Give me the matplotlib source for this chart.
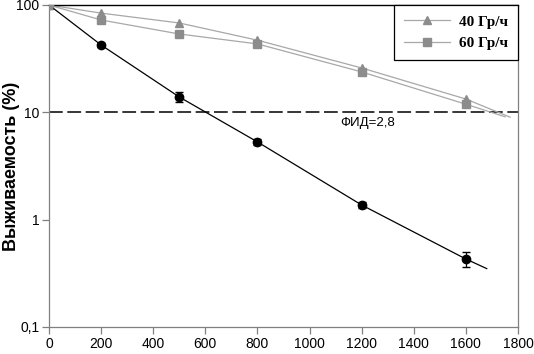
import matplotlib
matplotlib.use('Agg')
import matplotlib.pyplot as plt
from matplotlib.ticker import FixedLocator, NullLocator

# dose (Gy) and survival (%)
dose = [0, 200, 500, 800, 1200, 1600]

acute = [100, 42.4, 13.9, 5.3, 1.37, 0.43]
acute_err = [0, 1.5, 1.5, 0.35, 0.08, 0.07]
acute_fit_x = [0, 200, 500, 800, 1200, 1600, 1680]
acute_fit_y = [100, 42.4, 13.9, 5.3, 1.37, 0.43, 0.35]

rate40 = [100, 84, 68, 47, 25.9, 13.3]
rate40_fit_x = [0, 200, 500, 800, 1200, 1600, 1770]
rate40_fit_y = [100, 84, 68, 47, 25.9, 13.3, 9.0]

rate60 = [100, 72.5, 53.7, 43.4, 23.8, 11.9]
rate60_fit_x = [0, 200, 500, 800, 1200, 1600, 1750]
rate60_fit_y = [100, 72.5, 53.7, 43.4, 23.8, 11.9, 9.1]

fid_level = 10
fid_label = 'ФИД=2,8'
ytick_vals = [0.1, 1, 10, 100]
ytick_labels = ['0,1', '1', '10', '100']
xtick_vals = list(range(0, 1801, 200))

W, H = 534, 354
fig = plt.figure(figsize=(W / 100, H / 100), dpi=100)
ax = fig.add_axes([49 / W, (H - 327) / H, 469 / W, 322 / H])

ax.set_yscale('log')
ax.set_xlim(0, 1800)
ax.set_ylim(0.1, 100)

line_gray = '#a8a8a8'
mark_gray = '#8c8c8c'

ax.plot(rate40_fit_x, rate40_fit_y, color=line_gray, lw=0.9, zorder=2)
ax.plot(rate60_fit_x, rate60_fit_y, color=line_gray, lw=0.9, zorder=2)
ax.plot(dose, rate40, ls='none', marker='^', ms=6, color=mark_gray, zorder=3)
ax.plot(dose, rate60, ls='none', marker='s', ms=5.5, color=mark_gray, zorder=3)

ax.plot(acute_fit_x, acute_fit_y, color='black', lw=0.9, zorder=4)
ax.errorbar(dose[1:], acute[1:], yerr=acute_err[1:], fmt='o', ms=6,
            color='black', ecolor='black', elinewidth=0.9, capsize=3, zorder=5)
ax.plot([0], [100], marker='o', ms=6, color=mark_gray, zorder=6)

ax.axhline(fid_level, color='black', lw=1.1, dashes=(9, 3), zorder=1)
ax.text(1117, 8.0, fid_label, fontsize=9.5, family='Liberation Sans',
        va='center', ha='left')

ax.yaxis.set_major_locator(FixedLocator(ytick_vals))
ax.yaxis.set_minor_locator(NullLocator())
ax.set_yticklabels(ytick_labels)
ax.set_xticks(xtick_vals)

for side in ['left', 'right', 'bottom']:
    ax.spines[side].set_color('#808080')
    ax.spines[side].set_linewidth(0.9)
ax.spines['top'].set_color('black')
ax.spines['top'].set_linewidth(1.0)

ax.tick_params(axis='both', direction='out', length=5, width=0.9,
               color='#808080', labelsize=10, pad=2)
for lab in ax.get_xticklabels() + ax.get_yticklabels():
    lab.set_family('Liberation Sans')

ax.set_ylabel('Выживаемость (%)', fontsize=13, fontweight='bold',
              family='Liberation Sans', va='center')
ax.yaxis.set_label_coords(-37 / 469, 0.5)

h40, = ax.plot([], [], color=line_gray, lw=0.9, marker='^', ms=6,
               mfc=mark_gray, mec=mark_gray)
h60, = ax.plot([], [], color=line_gray, lw=0.9, marker='s', ms=5.5,
               mfc=mark_gray, mec=mark_gray)
leg = ax.legend([h40, h60], ['40 Гр/ч', '60 Гр/ч'], loc='upper right',
                bbox_to_anchor=(1.0, 1.0), fancybox=False, framealpha=1,
                edgecolor='black', borderpad=0.65, borderaxespad=0,
                handlelength=3.0, handletextpad=0.6,
                labelspacing=0.5, prop={'family': 'Liberation Serif',
                                        'weight': 'bold', 'size': 11})
leg.get_frame().set_linewidth(0.9)

fig.savefig('out.png', dpi=100)
